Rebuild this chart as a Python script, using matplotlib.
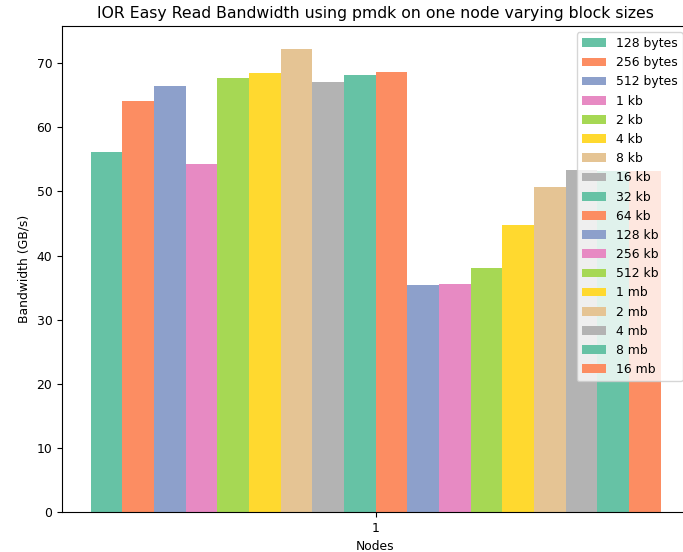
import numpy as np
import matplotlib
matplotlib.use("Agg")
import matplotlib.pyplot as plt

# block sizes and read bandwidth (GB/s) on 1 node
block_sizes = ["128 bytes", "256 bytes", "512 bytes", "1 kb", "2 kb", "4 kb", "8 kb",
               "16 kb", "32 kb", "64 kb", "128 kb", "256 kb", "512 kb", "1 mb",
               "2 mb", "4 mb", "8 mb", "16 mb"]
bandwidth = [56.2, 64.1, 66.5, 54.3, 67.7, 68.5, 72.2, 67.1, 68.1, 68.7,
             35.4, 35.6, 38.1, 44.7, 50.7, 53.3, 53.2, 53.2]
nodes = [1]

plt.rcParams["font.size"] = 8.9
colors = plt.cm.Set2.colors

fig = plt.figure(figsize=(6.83, 5.52), dpi=100)
ax = fig.add_axes([0.0908, 0.0725, 0.918, 0.8805])

w = 0.05
n = len(block_sizes)
for i, (lab, val) in enumerate(zip(block_sizes, bandwidth)):
    ax.bar(nodes[0] + (i - (n - 1) / 2) * w, val, w, label=lab, color=colors[i % 8])

ax.set_xticks(nodes)
ax.set_xticklabels([str(x) for x in nodes])
ax.set_xlabel("Nodes")
ax.set_ylabel("Bandwidth (GB/s)")
ax.set_title("IOR Easy Read Bandwidth using pmdk on one node varying block sizes", fontsize=11.3)
ax.legend(loc="upper right")

fig.savefig("out.png", dpi=100)
